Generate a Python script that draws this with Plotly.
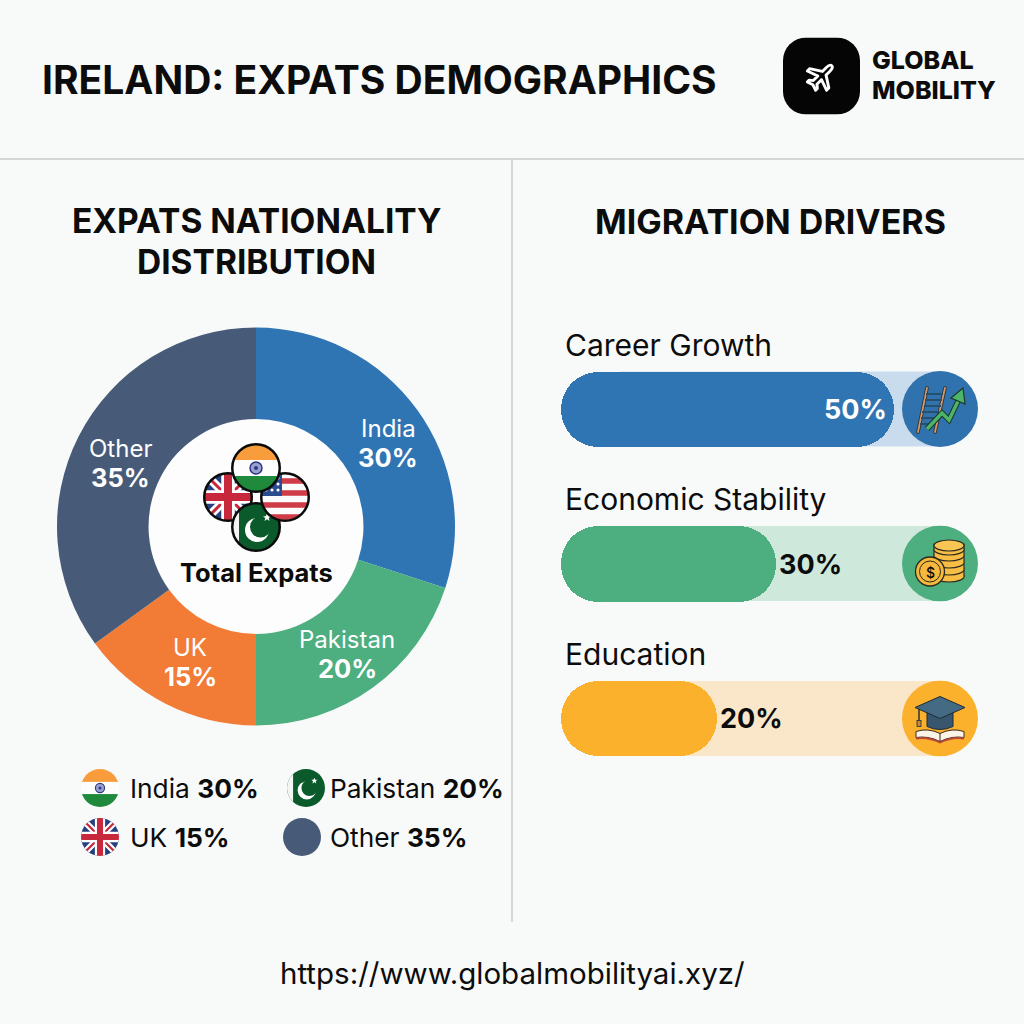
import base64
import plotly.graph_objects as go

# Nationality split
nations = ["India", "Pakistan", "UK", "Other"]
nation_share = [30, 20, 15, 35]
nation_colors = ["#2f75b3", "#4dae7f", "#f27b35", "#475b78"]

# Migration drivers
drivers = ["Career Growth", "Economic Stability", "Education"]
driver_share = [50, 30, 20]
driver_colors = ["#2f75b3", "#4dae7f", "#fbb12b"]
track_colors = ["#c9dcee", "#cfe8dc", "#fae6c8"]

PAGE = "#f8faf9"
INK = "#0c0c0c"
FONT = "Inter, Roboto, sans-serif"
SIZE = 1024


def px(x):
    return x / SIZE


def py(y):
    return 1 - y / SIZE


def uri(body, box):
    svg = f'<svg xmlns="http://www.w3.org/2000/svg" viewBox="{box}" width="200" height="200">{body}</svg>'
    return "data:image/svg+xml;base64," + base64.b64encode(svg.encode()).decode()


def disc_flag(inner, ring=False):
    edge = '<circle r="47.5" fill="none" stroke="#0b0b0b" stroke-width="5"/>' if ring else ""
    return uri(
        f'<defs><clipPath id="c"><circle r="{48 if ring else 50}"/></clipPath></defs>'
        f'<g clip-path="url(#c)">{inner}</g>{edge}',
        "-50 -50 100 100",
    )


UK = (
    '<rect x="-50" y="-50" width="100" height="100" fill="#24407f"/>'
    '<path d="M-50 -50L50 50M50 -50L-50 50" stroke="#fff" stroke-width="17"/>'
    '<path d="M-50 -50L50 50M50 -50L-50 50" stroke="#c8283c" stroke-width="6"/>'
    '<path d="M0 -50V50M-50 0H50" stroke="#fff" stroke-width="27"/>'
    '<path d="M0 -50V50M-50 0H50" stroke="#c8283c" stroke-width="16"/>'
)
INDIA = (
    '<rect x="-50" y="-50" width="100" height="34" fill="#f89c3c"/>'
    '<rect x="-50" y="-16" width="100" height="32" fill="#fdfdfd"/>'
    '<rect x="-50" y="16" width="100" height="34" fill="#1f8a3c"/>'
    '<circle r="12" fill="#9aa0cf" stroke="#2b3a80" stroke-width="3"/>'
    '<circle r="4" fill="#2b3a80"/>'
)
US = (
    '<rect x="-50" y="-50" width="100" height="100" fill="#fbfbfb"/>'
    '<path d="M-50 -32H50M-50 -8H50M-50 16H50M-50 40H50" stroke="#cf3b46" stroke-width="11"/>'
    '<rect x="-50" y="-50" width="44" height="48" fill="#2b4b90"/>'
    '<path d="M-38 -38h.1M-26 -38h.1M-14 -38h.1M-38 -26h.1M-26 -26h.1M-14 -26h.1M-38 -14h.1M-26 -14h.1M-14 -14h.1"'
    ' stroke="#fff" stroke-width="6" stroke-linecap="round"/>'
)
STAR = '<path d="M0 -8L2.4 -2.5L8 -2.5L3.5 1.2L5 7L0 3.6L-5 7L-3.5 1.2L-8 -2.5L-2.4 -2.5Z" fill="#fff" transform="translate({x} {y})"/>'


def pakistan(strip):
    return (
        '<rect x="-50" y="-50" width="100" height="100" fill="#0b5a2c"/>'
        f'<rect x="-50" y="-50" width="{strip}" height="100" fill="#f4f6f4"/>'
        '<circle cx="2" cy="6" r="24" fill="#fff"/><circle cx="9" cy="0" r="21" fill="#0b5a2c"/>'
        + STAR.format(x=22, y=-19)
    )


def disc(cx, cy, r, source):
    return dict(
        source=source, xref="paper", yref="paper", x=px(cx - r), y=py(cy - r),
        sizex=2 * r / SIZE, sizey=2 * r / SIZE, xanchor="left", yanchor="top",
        sizing="stretch", layer="above",
    )


PLANE = (
    '<rect x="-50" y="-50" width="100" height="100" rx="30" fill="#050505"/>'
    '<path transform="rotate(45) scale(.42)" fill="none" stroke="#fff" stroke-width="9" stroke-linejoin="round" '
    'd="M0 -45C6 -45 8 -38 8 -28L8 -12L42 10L42 20L8 8L8 28L18 36L18 44L0 38L-18 44L-18 36L-8 28L-8 8L-42 20L-42 10'
    'L-8 -12L-8 -28C-8 -38 -6 -45 0 -45Z"/>'
)
LADDER = (
    '<circle cx="38" cy="38" r="38" fill="#2f72ad"/>'
    '<path d="M25 17L16 61M43 17L33 61" stroke="#33302e" stroke-width="3.6" stroke-linecap="round"/>'
    '<path d="M25 17L16 61M43 17L33 61" stroke="#d49a6c" stroke-width="1.8" stroke-linecap="round"/>'
    '<path d="M24 23H41M23 29H40M22 35H39M20 41H37M19 47H36M18 53H34" stroke="#27506f" stroke-width="2"/>'
    '<path d="M25 58L40 42L47 49L58 26" fill="none" stroke="#1c3a2a" stroke-width="5.6"/>'
    '<path d="M25 58L40 42L47 49L58 26" fill="none" stroke="#4cb56a" stroke-width="3.4"/>'
    '<path d="M49 27L61 17L63 33Z" fill="#4cb56a" stroke="#1c3a2a" stroke-width="1.2"/>'
)
COINS = (
    '<circle cx="38" cy="38" r="38" fill="#4dae7f"/>'
    + "".join(
        f'<ellipse cx="47" cy="{y}" rx="15" ry="5.5" fill="#f7bd45" stroke="#2a2a20" stroke-width="1.2"/>'
        f'<rect x="32" y="{y - 6}" width="30" height="6" fill="#f7bd45"/>'
        f'<path d="M32 {y - 6}V{y}M62 {y - 6}V{y}" stroke="#2a2a20" stroke-width="1.2"/>'
        for y in (51, 44, 37, 30, 24)
    )
    + '<ellipse cx="47" cy="20" rx="15" ry="5.5" fill="#f9c654" stroke="#2a2a20" stroke-width="1.2"/>'
    '<circle cx="28" cy="46" r="14.5" fill="#f6b93c" stroke="#2a2a20" stroke-width="1.3"/>'
    '<circle cx="28" cy="46" r="10.5" fill="none" stroke="#2a2a20" stroke-width="1"/>'
)
CAP = (
    '<circle cx="38" cy="38" r="38" fill="#fbb12b"/>'
    '<path d="M14 51Q26 47 38 53Q50 47 62 51L62 57Q50 55 38 61Q26 55 14 57Z" fill="#fbf4e6" stroke="#3a2a20" stroke-width="1"/>'
    '<path d="M14 57Q26 55 38 61Q50 55 62 57L62 59Q50 57 38 63Q26 57 14 59Z" fill="#b9483a"/>'
    '<path d="M38 53V61" stroke="#3a2a20" stroke-width="1"/>'
    '<path d="M25 30V46Q38 52 51 46V30Z" fill="#38566e" stroke="#1e2b35" stroke-width="1"/>'
    '<path d="M38 16L63 27L38 38L13 27Z" fill="#456a84" stroke="#1e2b35" stroke-width="1"/>'
    '<path d="M17 29V40" stroke="#1e2b35" stroke-width="1.4"/><rect x="15" y="40" width="4" height="6" fill="#c98a3a" stroke="#1e2b35" stroke-width=".8"/>'
)

# One data unit of the drivers axis is 5.9 px; the negative stub is the rounded left cap of each pill.
cap_units = 6.36
axis_top = 64.32

fig = go.Figure()

fig.add_trace(go.Pie(
    labels=nations, values=nation_share, sort=False, direction="clockwise", rotation=0,
    hole=0.54, domain=dict(x=[px(57), px(455)], y=[py(725.5), py(327.5)]),
    marker=dict(colors=nation_colors, line=dict(width=0)),
    textinfo="none", hoverinfo="label+percent", showlegend=False,
))

fig.add_trace(go.Bar(
    y=drivers, x=[-cap_units] * len(drivers), orientation="h", width=0.485,
    marker=dict(color=driver_colors, cornerradius=37, line=dict(width=0)),
    hoverinfo="skip", showlegend=False,
))
fig.add_trace(go.Bar(
    y=drivers, x=driver_share, orientation="h", width=0.485,
    marker=dict(color=driver_colors, cornerradius=37, line=dict(width=0)),
    text=[f"<b>{v}%</b>" for v in driver_share], texttemplate="%{text}",
    textposition=["inside" if v >= 40 else "outside" for v in driver_share],
    insidetextanchor="end", constraintext="none", cliponaxis=False,
    insidetextfont=dict(family=FONT, size=27, color="#ffffff"),
    outsidetextfont=dict(family=FONT, size=27, color=INK),
    showlegend=False,
))

fig.update_layout(
    width=SIZE, height=SIZE, autosize=False, margin=dict(l=0, r=0, t=0, b=0, pad=0),
    paper_bgcolor=PAGE, plot_bgcolor="rgba(0,0,0,0)", barmode="overlay", bargap=0,
    font=dict(family=FONT, color=INK),
    xaxis=dict(domain=[px(561), px(978)], range=[-cap_units, axis_top], visible=False, fixedrange=True),
    yaxis=dict(domain=[py(796), py(332)], autorange="reversed", visible=False, fixedrange=True),
)

# Rules, the white centre of the donut and the pale tracks behind the pills
fig.add_shape(type="line", xref="paper", yref="paper", x0=0, x1=1, y0=py(159), y1=py(159),
              line=dict(color="#d4d7d7", width=2), layer="below")
fig.add_shape(type="line", xref="paper", yref="paper", x0=px(512), x1=px(512), y0=py(160), y1=py(922),
              line=dict(color="#d4d7d7", width=2), layer="below")
fig.add_shape(type="circle", xref="paper", yref="paper", x0=px(149), x1=px(363), y0=py(633), y1=py(419),
              fillcolor="#fdfdfd", line=dict(width=0), layer="below")
for centre, colour in zip((409, 563.5, 718.5), track_colors):
    fig.add_shape(type="rect", xref="paper", yref="paper", x0=px(620), x1=px(945),
                  y0=py(centre + 37.5), y1=py(centre - 37.5), fillcolor=colour,
                  line=dict(width=0), layer="below")


def label(x, y, text, size, anchor="left", weight=None, colour=INK):
    fig.add_annotation(x=px(x), y=py(y), xref="paper", yref="paper", text=text, showarrow=False,
                       xanchor=anchor, yanchor="middle", align=anchor,
                       font=dict(family=FONT, size=size, color=colour, weight=weight))


label(40, 79, "IRELAND: EXPATS DEMOGRAPHICS", 39, weight=700)
label(870, 60, "GLOBAL", 25, weight=800)
label(870, 90, "MOBILITY", 25, weight=800)
label(256, 221, "EXPATS NATIONALITY", 33.5, "center", 700)
label(256, 262, "DISTRIBUTION", 33.5, "center", 700)
label(770, 221, "MIGRATION DRIVERS", 34, "center", 700)
label(256, 572, "Total Expats", 25.5, "center", 700)
label(512, 973, "https://www.globalmobilityai.xyz/", 29.5, "center")
label(930, 572, "$", 14, "center", 500)

for name, centre in zip(drivers, (345, 499, 654)):
    label(563, centre, name, 30)

# Slice captions sit in the ring, name above share
slice_spots = {"India": (388, 428), "Pakistan": (347, 639), "UK": (190, 647), "Other": (120, 448)}
for name, share in zip(nations, nation_share):
    x, y = slice_spots[name]
    label(x, y, name, 24, "center", colour="#ffffff")
    label(x, y + 29, f"<b>{share}%</b>", 25.5, "center", colour="#ffffff")

legend_spots = {"India": (128, 788), "Pakistan": (328, 788), "UK": (128, 837), "Other": (328, 837)}
for name, share in zip(nations, nation_share):
    x, y = legend_spots[name]
    label(x, y, f"{name} <b>{share}%</b>", 26.3)

fig.update_layout(images=[
    disc(821.5, 76, 38.5, uri(PLANE, "-50 -50 100 100")),
    disc(228, 497, 25, disc_flag(UK, True)),
    disc(256, 527, 25, disc_flag(pakistan(16), True)),
    disc(285, 497, 25, disc_flag(US, True)),
    disc(256, 468, 25, disc_flag(INDIA, True)),
    disc(100, 788, 19, disc_flag(INDIA)),
    disc(100, 837, 19, disc_flag(UK)),
    disc(306, 788, 19, disc_flag(pakistan(16))),
    disc(302, 837, 19, disc_flag('<rect x="-50" y="-50" width="100" height="100" fill="#475b78"/>')),
    disc(940, 409, 38, uri(LADDER, "0 0 76 76")),
    disc(940, 563.5, 38, uri(COINS, "0 0 76 76")),
    disc(940, 718.5, 38, uri(CAP, "0 0 76 76")),
])

fig.write_html("out.html", config=dict(displayModeBar=False))
